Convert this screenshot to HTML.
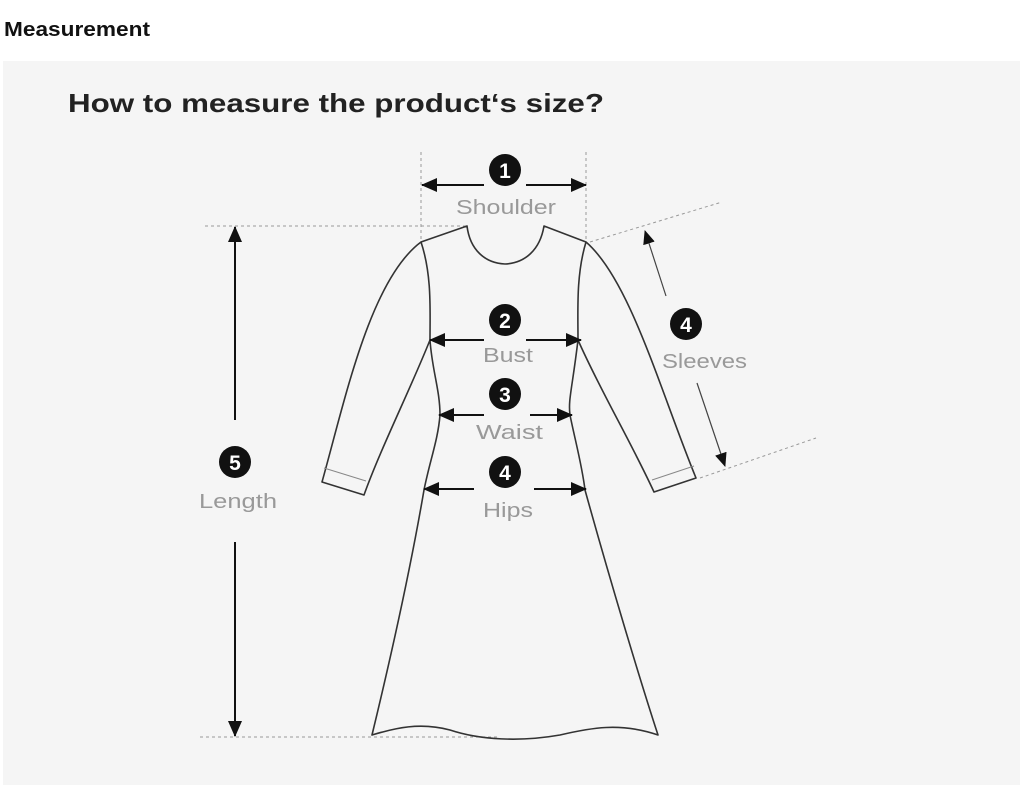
<!DOCTYPE html>
<html><head><meta charset="utf-8"><style>
body{margin:0;background:#fff;width:1024px;height:795px;overflow:hidden;font-family:"Liberation Sans",sans-serif}
svg{position:absolute;left:0;top:0}
</style></head><body>
<svg width="1024" height="795" viewBox="0 0 1024 795" font-family="Liberation Sans, sans-serif">
<defs>
<marker id="a" markerWidth="16" markerHeight="14" refX="15" refY="7" orient="auto" markerUnits="userSpaceOnUse"><path d="M0,0 L16,7 L0,14z" fill="#111"/></marker>
<marker id="b" markerWidth="14" markerHeight="12" refX="13" refY="6" orient="auto" markerUnits="userSpaceOnUse"><path d="M0,0 L14,6 L0,12z" fill="#111"/></marker>
</defs>
<text x="4" y="36" font-size="20" font-weight="bold" fill="#111" textLength="146" lengthAdjust="spacingAndGlyphs">Measurement</text>
<rect x="3" y="61" width="1017" height="724" fill="#f5f5f5"/>
<text x="68" y="112" font-size="26" font-weight="bold" fill="#222" textLength="536" lengthAdjust="spacingAndGlyphs">How to measure the product‘s size?</text>
<g stroke="#999" stroke-width="1" stroke-dasharray="3,3" fill="none">
<line x1="421" y1="152" x2="421" y2="242"/><line x1="586" y1="152" x2="586" y2="242"/>
<line x1="205" y1="226" x2="467" y2="226"/><line x1="200" y1="737" x2="500" y2="737"/>
<line x1="590" y1="242" x2="722" y2="202"/><line x1="700" y1="478" x2="816" y2="438"/>
</g>
<g stroke="#333" stroke-width="1.6" fill="none" stroke-linejoin="round">
<path d="M467,226 C470,250 485,263 505,264 C525,263 540,250 544,226 L586,242 C630,280 660,390 696,478 L654,492 C630,440 600,390 578,340 C572,390 568,400 570,415 C575,440 582,465 585,490 C610,580 640,680 658,735 C620,722 590,728 560,735 C520,742 480,740 450,730 C420,722 395,728 372,735 C395,640 412,560 424,490 C430,460 438,440 440,415 C440,390 432,370 430,340 C410,390 380,450 364,495 L322,482 C345,400 370,280 421,242 Z"/>
<path d="M421,242 C432,275 430,310 430,340"/><path d="M586,242 C576,275 578,310 578,340"/>
</g>
<g stroke="#888" stroke-width="1" fill="none"><line x1="324" y1="468" x2="366" y2="481"/><line x1="652" y1="480" x2="694" y2="466"/></g>
<g stroke="#111" stroke-width="2">
<line x1="484" y1="185" x2="422" y2="185" marker-end="url(#a)"/><line x1="526" y1="185" x2="586" y2="185" marker-end="url(#a)"/>
<line x1="484" y1="340" x2="430" y2="340" marker-end="url(#a)"/><line x1="526" y1="340" x2="581" y2="340" marker-end="url(#a)"/>
<line x1="484" y1="415" x2="439" y2="415" marker-end="url(#a)"/><line x1="530" y1="415" x2="572" y2="415" marker-end="url(#a)"/>
<line x1="474" y1="489" x2="424" y2="489" marker-end="url(#a)"/><line x1="534" y1="489" x2="586" y2="489" marker-end="url(#a)"/>
<line x1="235" y1="420" x2="235" y2="227" marker-end="url(#a)"/><line x1="235" y1="542" x2="235" y2="736" marker-end="url(#a)"/>
</g>
<g stroke="#444" stroke-width="1.2">
<line x1="666" y1="296" x2="645" y2="231" marker-end="url(#b)"/><line x1="697" y1="383" x2="725" y2="466" marker-end="url(#b)"/>
</g>
<g fill="#111"><circle cx="505" cy="170" r="16"/><circle cx="505" cy="320" r="16"/><circle cx="505" cy="394" r="16"/><circle cx="505" cy="472" r="16"/><circle cx="235" cy="462" r="16"/><circle cx="686" cy="324" r="16"/></g>
<g fill="#fff" font-size="21" font-weight="bold" text-anchor="middle">
<text x="505" y="178">1</text><text x="505" y="328">2</text><text x="505" y="402">3</text><text x="505" y="480">4</text><text x="235" y="470">5</text><text x="686" y="332">4</text>
</g>
<g fill="#999" font-size="20" lengthAdjust="spacingAndGlyphs">
<text x="456" y="214" textLength="100" lengthAdjust="spacingAndGlyphs">Shoulder</text>
<text x="483" y="362" textLength="50" lengthAdjust="spacingAndGlyphs">Bust</text>
<text x="476" y="439" textLength="67" lengthAdjust="spacingAndGlyphs">Waist</text>
<text x="483" y="517" textLength="50" lengthAdjust="spacingAndGlyphs">Hips</text>
<text x="199" y="508" textLength="78" lengthAdjust="spacingAndGlyphs">Length</text>
<text x="662" y="368" textLength="85" lengthAdjust="spacingAndGlyphs">Sleeves</text>
</g>
</svg>
</body></html>
